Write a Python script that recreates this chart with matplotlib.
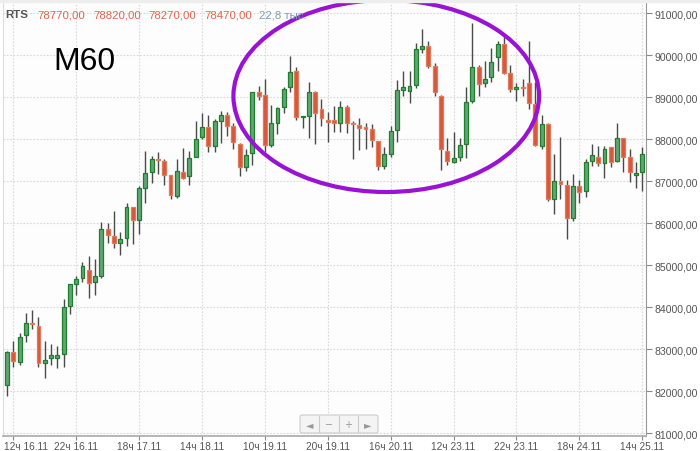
import numpy as np
import matplotlib
matplotlib.use("Agg")
import matplotlib.pyplot as plt
import matplotlib.transforms as mtransforms
from matplotlib.patches import Ellipse, FancyBboxPatch

plt.rcParams['font.family'] = ['Liberation Sans', 'DejaVu Sans']

# hourly candles, 11ч 16.11 ... 14ч 25.11
opens = [82150, 82930, 82700, 83350, 83630, 83560, 82680, 82790, 82790, 82900,
         84030, 84560, 84690, 84900, 84610, 84750, 85860, 85700, 85520, 85650,
         86380, 86080, 86850, 87210, 87530, 87490, 87140, 86660, 87210, 87120,
         87590, 88060, 88300, 87850, 88440, 88590, 88320, 87900, 87330, 87670,
         89120, 89050, 87870, 88400, 88770, 89240, 89630, 88520, 88560, 89130,
         88720, 88460, 88460, 88390, 88780, 88390, 88340, 88290, 88250, 87960,
         87360, 87650, 88230, 89170, 89150, 89300, 90160, 90210, 89740, 89040,
         87730, 87470, 87590, 87900, 88920, 89710, 89330, 89480, 89970, 90270,
         89580, 89200, 89250, 89330, 88840, 87850, 88360, 86590, 87010, 86910,
         86120, 86890, 86780, 87480, 87590, 87430, 87810, 87490, 88020, 87570,
         87160, 87210]
highs = [82950, 83190, 83380, 83860, 83930, 83760, 83190, 83120, 83070, 84200,
         84560, 84750, 85090, 85210, 85150, 86020, 86010, 86300, 85790, 86480,
         86390, 86900, 87710, 87610, 87690, 87520, 87150, 87540, 87790, 87730,
         88430, 88630, 88590, 88480, 88670, 88640, 88380, 87910, 87780, 89130,
         89270, 89440, 88820, 88770, 89250, 89990, 89710, 88550, 89370, 89140,
         88960, 88640, 88790, 88920, 88820, 88440, 88500, 88400, 88370, 87970,
         87810, 88310, 89420, 89630, 89620, 90290, 90630, 90350, 89820, 89050,
         88020, 88180, 88030, 89250, 90770, 89780, 89860, 90170, 90350, 90430,
         89780, 89330, 89440, 90340, 89370, 88580, 88380, 87650, 88050, 87040,
         87170, 87030, 87530, 87890, 87840, 87830, 87820, 88390, 88030, 87780,
         87450, 87810]
lows = [81900, 82570, 82630, 83180, 83480, 82590, 82310, 82630, 82560, 82590,
        83850, 84300, 84610, 84210, 84300, 84690, 85530, 85410, 85250, 85460,
        85500, 85750, 86480, 86950, 87170, 86920, 86580, 86610, 87060, 86920,
        87570, 88010, 87690, 87700, 87920, 88080, 87780, 87130, 87250, 87400,
        88930, 87690, 87810, 88120, 88620, 89120, 88470, 88280, 88040, 87890,
        88310, 87930, 88180, 88180, 88160, 87530, 87750, 87770, 87810, 87270,
        87290, 87590, 87940, 89040, 88860, 89230, 90050, 89700, 89040, 87280,
        87400, 87430, 87480, 87550, 88860, 89020, 89240, 89360, 89630, 89550,
        89130, 88900, 89040, 88720, 87830, 87770, 86520, 86220, 86590, 85630,
        86050, 86480, 86630, 87360, 87360, 87080, 87330, 87450, 87230, 86980,
        86840, 86780]
closes = [82930, 82730, 83290, 83630, 83600, 82680, 82750, 82860, 82860, 84010,
          84550, 84670, 84980, 84590, 84740, 85860, 85720, 85520, 85630, 86380,
          86090, 86830, 87190, 87530, 87500, 87160, 86670, 87240, 87090, 87560,
          88000, 88300, 87850, 88430, 88590, 88320, 87930, 87330, 87630, 89120,
          89020, 87870, 88380, 88750, 89200, 89610, 88530, 88550, 89130, 88620,
          88500, 88420, 88400, 88760, 88380, 88360, 88280, 88250, 87990, 87360,
          87650, 88190, 89180, 89240, 89260, 90140, 90230, 89740, 89130, 87770,
          87480, 87550, 87870, 88880, 89710, 89320, 89430, 89850, 90260, 89590,
          89200, 89250, 89220, 88860, 87860, 88360, 86580, 87000, 86930, 86120,
          86890, 86740, 87450, 87620, 87440, 87780, 87450, 88020, 87590, 87210,
          87190, 87640]

tick_pos = [1, 11, 21, 31, 41, 51, 61, 71, 81, 91, 101]
tick_labels = ['12ч 16.11', '22ч 16.11', '18ч 17.11', '14ч 18.11', '10ч 19.11',
               '20ч 19.11', '16ч 20.11', '12ч 23.11', '22ч 23.11', '18ч 24.11',
               '14ч 25.11']
y_ticks = list(range(81000, 92000, 1000))

header = [('RTS', '#555555', 'bold'), ('78770,00', '#e0644e', 'normal'),
          ('78820,00', '#e0644e', 'normal'), ('78270,00', '#e0644e', 'normal'),
          ('78470,00', '#e0644e', 'normal'), ('22,8 тыс.', '#7f9db3', 'normal')]
header_x = [5, 37, 93, 148, 204, 259]

W, H = 700, 452
fig = plt.figure(figsize=(W / 100, H / 100), dpi=100)
fig.patch.set_facecolor('white')
ax = fig.add_axes([3 / W, (H - 436.7) / H, 643 / W, 433.7 / H])
ax.set_facecolor('#fdfdfd')

x = np.arange(len(opens))
o = np.array(opens)
c = np.array(closes)
up = c >= o

ax.vlines(x, lows, highs, color='#4a4a4a', linewidth=1.0, zorder=2)
bottoms = np.minimum(o, c)
heights = np.maximum(np.abs(c - o), 25)
ax.bar(x[up], heights[up], bottom=bottoms[up], width=0.62, color='#62a474',
       edgecolor='#1f7d2e', linewidth=0.9, zorder=3)
ax.bar(x[~up], heights[~up], bottom=bottoms[~up], width=0.62, color='#d9563a',
       edgecolor='#e07a5c', linewidth=0.9, zorder=3)

ax.set_xlim(-0.64, 101.6)
ax.set_ylim(80943, 91269)
ax.set_xticks(tick_pos)
ax.set_xticklabels(tick_labels)
ax.set_yticks(y_ticks)
ax.set_yticklabels([f'{v},00' for v in y_ticks])
ax.yaxis.tick_right()
ax.tick_params(axis='both', colors='#888888', labelcolor='#555555',
               labelsize=7.6, length=4, width=0.8, pad=2)
ax.tick_params(axis='x', length=3, pad=0.5, labelsize=7.3)
# first label is pushed right so it stays inside the picture
first = ax.get_xticklabels()[0]
first.set_horizontalalignment('left')
first.set_transform(first.get_transform() +
                    mtransforms.ScaledTranslation(-9.5 / 100, 0, fig.dpi_scale_trans))
ax.grid(True, color='#d8d8d8', linestyle=(0, (1.5, 1.5)), linewidth=0.8)
ax.set_axisbelow(True)
ax.spines['top'].set_visible(False)
ax.spines['right'].set_color('#999999')
ax.spines['bottom'].set_color('#aaaaaa')
ax.spines['left'].set_color('#dddddd')
ax.spines['bottom'].set_linewidth(1.2)

# header line
for (txt, col, wt), hx in zip(header, header_x):
    fig.text(hx / W, 1 - 15.5 / H, txt, color=col, fontsize=8.2, fontweight=wt,
             va='center', ha='left')

fig.text(53 / W, 1 - 62 / H, 'M60', fontsize=23, color='black',
         va='center', ha='left')

# top band
fig.patches.append(plt.Rectangle((0, 1 - 3 / H), 1, 3 / H, transform=fig.transFigure,
                                 color='#eeeeee', zorder=0))

# highlight ellipse
ell = Ellipse((60.3, 89030), 48.6, 4570, fill=False, edgecolor='#9a12d4',
              linewidth=3.0, zorder=5, clip_on=False)
ax.add_patch(ell)

# navigator buttons
nav = FancyBboxPatch((300 / W, 1 - 434 / H), 78 / W, 18 / H,
                     boxstyle='round,pad=0,rounding_size=0.004',
                     transform=fig.transFigure, facecolor='#f4f4f4',
                     edgecolor='#cccccc', linewidth=0.8, zorder=6)
fig.patches.append(nav)
for sx in [319, 339, 358]:
    fig.add_artist(plt.Line2D([sx / W, sx / W], [1 - 433 / H, 1 - 417 / H],
                              transform=fig.transFigure, color='#cccccc',
                              linewidth=0.8, zorder=7))
for sym, sx in zip(['◄', '−', '+', '►'], [309.5, 329, 348.5, 368]):
    fig.text(sx / W, 1 - 425 / H, sym, color='#999999', fontsize=7,
             ha='center', va='center', zorder=8, family=['DejaVu Sans'])

fig.savefig('out.png', dpi=100)
